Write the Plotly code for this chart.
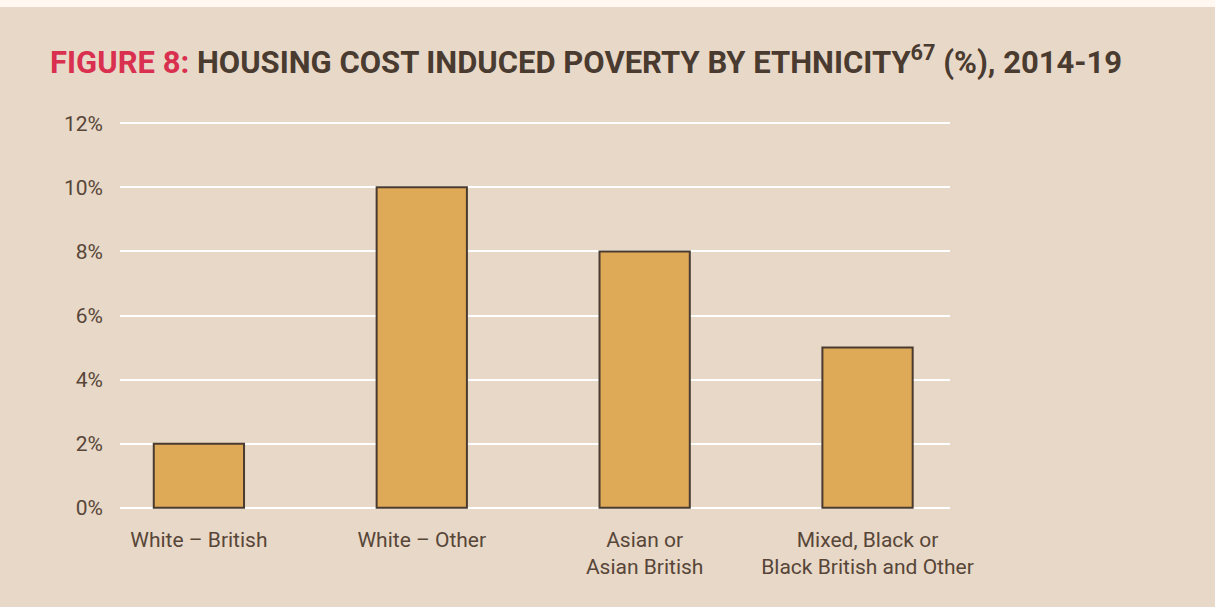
import plotly.graph_objects as go

# Housing cost induced poverty by ethnicity, 2014-19 (%)
categories = [
    "White – British",
    "White – Other",
    "Asian or<br>Asian British",
    "Mixed, Black or<br>Black British and Other",
]
values = [2, 10, 8, 5]
y_ticks = [0, 2, 4, 6, 8, 10, 12]
y_tick_labels = ["0%", "2%", "4%", "6%", "8%", "10%", "12%"]

BG = "#E8D8C8"
TEXT = "#574638"
DARK = "#4A3B30"
BAR = "#DFAA57"
RED = "#D9304F"

positions = list(range(len(categories)))

fig = go.Figure(
    go.Bar(
        x=positions,
        y=values,
        width=0.405,
        marker=dict(color=BAR, line=dict(color=DARK, width=2)),
        hoverinfo="skip",
    )
)

fig.update_layout(
    width=1215,
    height=607,
    paper_bgcolor=BG,
    plot_bgcolor=BG,
    margin=dict(l=120, r=265, t=122, b=98),
    showlegend=False,
    font=dict(family="Roboto, sans-serif", color=TEXT),
    title=dict(
        text=(
            f"<span style='color:{RED}'>FIGURE 8:</span> "
            "HOUSING COST INDUCED POVERTY BY ETHNICITY<sup>67</sup> (%), 2014-19"
        ),
        font=dict(family="Roboto, sans-serif",
                  size=31, color=DARK, weight="bold"),
        xref="container", yref="container",
        x=50 / 1215, xanchor="left",
        y=1 - 62 / 607, yanchor="middle",
    ),
    xaxis=dict(
        range=[-0.354, 3.37],
        tickvals=positions,
        ticktext=categories,
        showgrid=False,
        zeroline=False,
        showline=False,
        ticks="",
        ticklabelstandoff=16,
        tickfont=dict(size=21, color=TEXT),
        fixedrange=True,
    ),
    yaxis=dict(
        range=[-0.04, 12.04],
        tickvals=y_ticks,
        ticktext=y_tick_labels,
        showgrid=True,
        gridcolor="#FFFFFF",
        gridwidth=2,
        zeroline=False,
        showline=False,
        ticks="",
        ticklabelstandoff=16,
        tickfont=dict(size=21, color=TEXT),
        fixedrange=True,
    ),
    shapes=[
        dict(type="rect", xref="paper", yref="paper",
             x0=-1, x1=2, y0=1 + 115 / 387, y1=1 + 130 / 387,
             fillcolor="#FFF7F0", line=dict(width=0), layer="below"),
    ],
)

fig.write_html("out.html", config={"displayModeBar": False})
